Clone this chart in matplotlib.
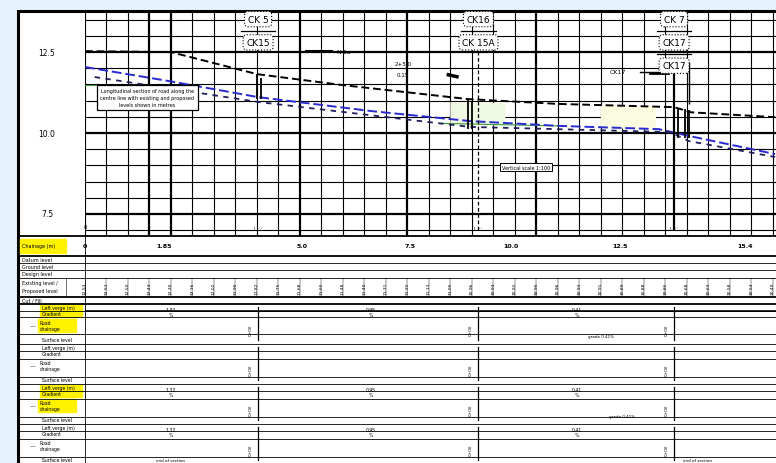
import numpy as np
import matplotlib.pyplot as plt
from matplotlib.patches import Rectangle

W, H = 776, 464

# ---- profile data (station in grid units, elevation) ----
ex_st = [0, 4.0, 8.0, 12.0, 17.8, 22.0, 27.4, 28.2, 32.1]
ex_el = [12.53, 12.50, 11.82, 11.48, 11.05, 10.90, 10.80, 10.64, 10.49]

pr_st = [0, 3.95, 8.05, 13.3, 17.9, 22.1, 26.7, 28.1, 32.1]
pr_el = [12.04, 11.60, 11.11, 10.68, 10.37, 10.22, 10.12, 9.91, 9.35]

lo_st = [0.45, 8.05, 17.9, 27.2, 28.1, 32.1]
lo_el = [11.73, 10.96, 10.19, 10.03, 9.75, 9.26]

gr_st = [0, 5.3]
gr_el = [11.48, 11.48]

drop_st = [8.0, 8.2, 17.8, 18.0, 27.4, 27.6, 27.9, 28.1]
drop_top = [11.82, 11.70, 11.05, 11.00, 10.80, 10.78, 10.74, 10.70]
drop_bot = [11.05, 11.05, 10.12, 10.12, 9.85, 9.85, 9.85, 9.85]

ck_st = [8.05, 18.3, 27.4]
ck_labels = [["CK 5", "CK15"], ["CK16", "CK 15A"], ["CK 7", "CK17", "CK17"]]

ch_st = [0, 3.7, 10.1, 15.1, 19.8, 24.9, 30.7]
ch_labels = ["0", "1.85", "5.0", "7.5", "10.0", "12.5", "15.4"]

y_ticks = [12.5, 10.0, 7.5]
y_labels = ["12.5", "10.0", "7.5"]

major_x = [3, 4, 10, 15, 21]

tick_vals = ["12.53", "12.51", "12.50", "12.44", "12.30", "12.16", "12.02", "11.90",
             "11.82", "11.75", "11.68", "11.60", "11.48", "11.40", "11.31", "11.22",
             "11.13", "11.05", "10.96", "10.94", "10.92", "10.90", "10.96", "10.93",
             "10.91", "10.89", "10.88", "10.86", "10.68", "10.63", "10.58", "10.54", "10.49"]

row_edges = [237, 257, 264, 271, 279, 298, 305, 312, 318, 335, 345,
             352, 360, 378, 385, 392, 400, 418, 425, 432, 440, 458, 464]
left_rows = [(247, "Chainage (m)"), (260.5, "Datum level"), (267.5, "Ground level"),
             (275, "Design level"), (284, "Existing level /"), (292, "Proposed level"),
             (301.5, "Cut / Fill")]
group_tops = [305, 345, 385, 425]
group_lines = ["Left verge (m)", "Gradient", "Road", "chainage", "Surface level"]
highlight_groups = [0, 2]

grade_st = [4.0, 13.3, 22.9]
grade_lab = ["1.32\n%", "0.95\n%", "0.41\n%"]

fig = plt.figure(figsize=(W / 100, H / 100), dpi=100)
fig.patch.set_facecolor("#e6f3fc")

ov = fig.add_axes([0, 0, 1, 1])
ov.set_xlim(0, W)
ov.set_ylim(H, 0)
ov.axis("off")
ov.add_patch(Rectangle((18, 12), W, H, facecolor="white", edgecolor="black", lw=2.2, zorder=0))

# ---- top profile panel ----
ax = fig.add_axes([85 / W, 1 - 237 / H, (W - 85) / W, (237 - 12) / H])
ax.set_xlim(0, 32.14)
ax.set_ylim(6.82, 13.77)
ax.set_facecolor("none")
for s in ax.spines.values():
    s.set_visible(False)
ax.set_xticks([])
ax.set_yticks([])

for k in range(0, 33):
    lw = 1.6 if k in major_x else 0.8
    ax.axvline(k, color="black", lw=lw, zorder=1)
for v in np.arange(7.0, 13.76, 0.5):
    lw = 1.6 if any(abs(v - t) < 1e-6 for t in y_ticks) else 0.8
    ax.axhline(v, color="black", lw=lw, zorder=1)

ax.fill_between([17.0, 19.5], [10.95, 10.92], [10.30, 10.27], color="#eef8e2", zorder=2)
ax.fill_between([24.0, 26.5], [10.85, 10.82], [10.20, 10.14], color="#fbfbe0", zorder=2)

ax.plot(ex_st, ex_el, color="black", lw=1.4, ls=(0, (4, 2)), zorder=4)
ax.plot(pr_st, pr_el, color="#2a2ad0", lw=1.4, ls=(0, (5, 2)), zorder=4)
ax.plot(lo_st, lo_el, color="#20205a", lw=1.3, ls=(0, (3, 3)), zorder=4)
ax.plot(gr_st, gr_el, color="#3a9a3a", lw=0.8, zorder=3)
ax.plot([16.5, 22.0], [10.30, 10.22], color="#3a9a3a", lw=0.8, zorder=3)
ax.vlines(drop_st, drop_bot, drop_top, color="black", lw=1.3, zorder=5)

# chainage markers
ax.vlines(ck_st[1], 7.0, 12.9, color="black", lw=0.9, ls=(0, (3, 2)), zorder=5)
ax.vlines(ck_st[2], 7.0, 12.2, color="black", lw=1.6, zorder=5)
ax.vlines(ck_st[2] + 0.7, 10.9, 12.2, color="black", lw=1.0, zorder=5)
for st, labs in zip(ck_st, ck_labels):
    for i, lab in enumerate(labs):
        ax.text(st, 13.52 - i * 0.72, lab, ha="center", va="center", fontsize=6.5, zorder=7,
                bbox=dict(boxstyle="round,pad=0.35", fc="white", ec="black", lw=0.8, ls=":"))
    for i in range(len(labs) - 1):
        ax.plot([st - 0.8, st + 0.8], [13.16 - i * 0.72] * 2, color="black", lw=0.9, zorder=6)
    ax.text(st, 7.05, "~\n:", ha="center", va="bottom", fontsize=4, rotation=90, zorder=6)
ax.text(0, 7.05, "0", ha="center", va="bottom", fontsize=4, zorder=6)

ax.plot([10.3, 11.5], [12.53, 12.53], color="black", lw=1.5, zorder=6)
ax.text(11.7, 12.53, "N-1a", fontsize=4.5, va="center", zorder=6)
ax.text(14.8, 12.1, "2+5.0", fontsize=4, ha="center", zorder=6)
ax.text(14.8, 11.75, "0.15", fontsize=4, ha="center", zorder=6)
ax.plot([16.9, 17.3], [11.8, 11.74], color="black", lw=2.5, zorder=6)
ax.text(24.8, 11.9, "CK17", fontsize=4.5, ha="center", va="center", zorder=6)
ax.plot([25.8, 27.4], [11.9, 11.9], color="black", lw=1.0, zorder=6)
ax.plot([26.3, 27.1], [11.87, 11.87], color="black", lw=2.0, zorder=6)

ax.text(2.9, 11.1, "Longitudinal section of road along the\ncentre line with existing and proposed\nlevels shown in metres",
        fontsize=3.5, ha="center", va="center", linespacing=1.4, zorder=7,
        bbox=dict(boxstyle="square,pad=0.7", fc="white", ec="black", lw=0.9))
ax.text(20.5, 8.95, "Vertical scale 1:100", fontsize=3.5, ha="center", va="center", zorder=7,
        bbox=dict(boxstyle="square,pad=0.4", fc="white", ec="black", lw=0.7))

for v, lab in zip(y_ticks, y_labels):
    ax.annotate(lab, xy=(0, v), xycoords="data", xytext=(-38, 0), textcoords="offset pixels",
                fontsize=5.5, ha="center", va="center", annotation_clip=False)

# ---- bottom table ----
tb = fig.add_axes([85 / W, 0, (W - 85) / W, (H - 237) / H])
tb.set_xlim(0, 32.14)
tb.set_ylim(H, 237)
tb.axis("off")

for y in row_edges:
    lw = 1.3 if y in (237, 257, 298, 305) else 0.6
    ov.plot([18, W], [y, y], color="black", lw=lw)
ov.plot([85, 85], [237, H], color="black", lw=0.6)
ov.plot([66, 66], [279, 298], color="black", lw=0.4)

ov.add_patch(Rectangle((20, 240), 46, 14, color="#fff200"))
for y, lab in left_rows:
    ov.text(22, y, lab, fontsize=3.5, va="center")

for gi, gt in enumerate(group_tops):
    if gi in highlight_groups:
        ov.add_patch(Rectangle((40, gt + 1), 42, 12, color="#fff200"))
        ov.add_patch(Rectangle((38, gt + 15), 38, 13, color="#fff200"))
    ov.text(42, gt + 4, group_lines[0], fontsize=3.3, va="center")
    ov.text(42, gt + 10, group_lines[1], fontsize=3.3, va="center")
    ov.text(40, gt + 19, group_lines[2], fontsize=3.3, va="center")
    ov.text(40, gt + 25, group_lines[3], fontsize=3.3, va="center")
    ov.text(42, gt + 36, group_lines[4], fontsize=3.3, va="center")
    ov.text(30, gt + 22, "—", fontsize=4, va="center")

for st, lab in zip(ch_st, ch_labels):
    tb.text(st, 247, lab, fontsize=4.5, ha="center", va="center", fontweight="bold")
for k, lab in enumerate(tick_vals):
    tb.text(k, 289, lab, fontsize=3.2, ha="center", va="center", rotation=90)
    tb.plot([k, k], [279, 298], color="black", lw=0.3)

for gi, gt in enumerate(group_tops):
    for st in ck_st:
        tb.plot([st, st], [gt + 3, gt + 36], color="black", lw=0.9)
        tb.text(st - 0.35, gt + 25, "0+00", fontsize=3, rotation=90, ha="center", va="center")
    if gi != 1:
        for st, lab in zip(grade_st, grade_lab):
            tb.text(st, gt + 8, lab, fontsize=3.3, ha="center", va="center")
tb.plot([0, 32.14], [312, 312], color="black", lw=1.2)
tb.text(24, 338, "grade 0.41%", fontsize=3, ha="center")
tb.text(25, 418, "grade 0.41%", fontsize=3, ha="center")
tb.text(4, 462, "end of section", fontsize=3, ha="center")
tb.text(28.5, 462, "end of section", fontsize=3, ha="center")

fig.savefig("out.png", dpi=100, facecolor=fig.get_facecolor())
